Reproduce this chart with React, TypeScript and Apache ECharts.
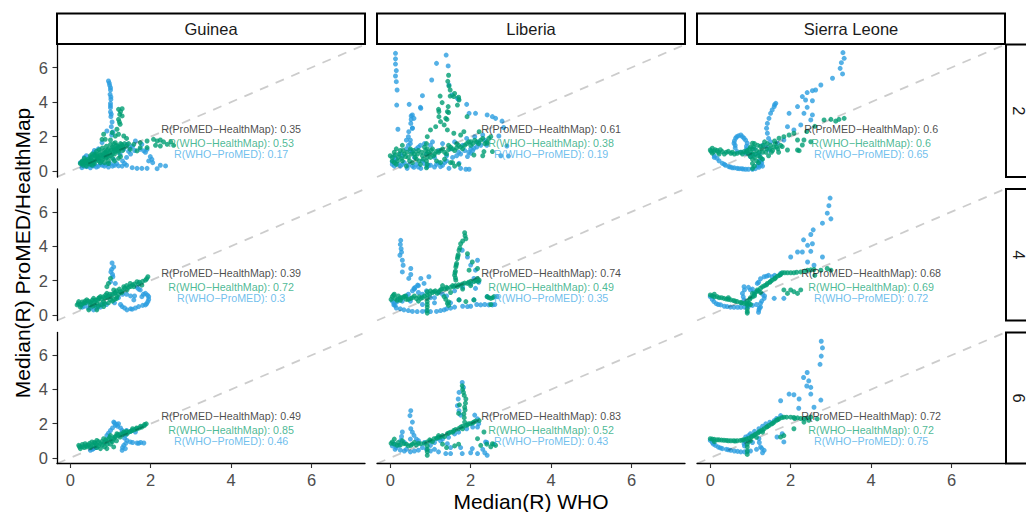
import React, { useEffect, useRef } from "react";
import * as echarts from "echarts";

const countries = ["Guinea", "Liberia", "Sierra Leone"];
const windows = ["2", "4", "6"];
const tickValues = [0, 2, 4, 6];
const axisMin = -0.33;
const axisMax = 7.33;
const xTitle = "Median(R) WHO";
const yTitle = "Median(R) ProMED/HealthMap";

// correlations by window (row) then country (column)
const rProMEDHealthMap = [[0.35, 0.61, 0.6], [0.39, 0.74, 0.68], [0.49, 0.83, 0.72]];
const rWHOHealthMap = [[0.53, 0.38, 0.6], [0.72, 0.49, 0.69], [0.85, 0.52, 0.72]];
const rWHOProMED = [[0.17, 0.19, 0.65], [0.3, 0.35, 0.72], [0.46, 0.43, 0.75]];
const labelY = [2.45, 1.65, 0.98];
const labelX = 4;

// ---------- window 2 ----------
const guineaW2ProMED = [[0.95,5.22],[0.97,5.1],[0.98,4.97],[1.0,4.83],[1.0,4.7],[0.99,4.45],[1.01,4.3],[1.01,4.16],[1.0,3.93],[1.0,3.8],[1.0,3.68],[1.0,3.43],[1.02,3.3],[1.01,3.16],[1.04,2.85],[1.02,2.58],[1.06,2.27],[1.03,2.1],[0.91,2.33],[0.79,1.66],[1.41,1.56],[1.49,1.37],[1.33,1.27],[1.62,1.75],[1.74,1.27],[1.78,1.56],[1.55,1.45],[0.58,1.08],[0.5,0.79],[0.83,0.89],[1.08,0.69],[1.24,0.98],[0.3,0.55],[0.45,0.65],[0.7,0.8],[1.1,1.2],[1.2,1.4],[0.25,0.5],[0.29,0.21],[0.35,0.3],[0.41,0.27],[0.5,0.2],[0.58,0.31],[0.65,0.25],[0.75,0.4],[0.85,0.3],[1.0,0.44],[1.1,0.35],[1.2,0.31],[1.29,0.3],[1.35,0.45],[1.4,0.35],[1.54,0.21],[1.66,0.17],[1.78,0.17],[1.91,0.17],[2.16,0.15],[2.24,0.35],[2.37,0.31],[1.95,0.6],[2.03,0.69],[1.99,0.85],[1.83,1.18],[1.91,1.27],[1.87,1.1],[2.05,0.5],[0.3,0.35],[0.4,0.4],[0.5,0.35],[0.6,0.4],[0.7,0.3],[0.8,0.35],[0.9,0.4],[0.95,0.25],[1.05,0.3],[1.15,0.45],[1.3,0.6],[1.4,0.8],[1.5,1.0],[1.6,1.2],[1.45,1.15],[0.4,0.9],[0.6,1.2],[0.7,1.3],[0.35,0.8]];
const guineaW2HealthMap = [[1.2,3.58],[1.29,3.62],[1.25,3.45],[1.23,3.29],[1.29,3.2],[1.2,3.0],[1.24,2.72],[1.16,2.43],[1.2,2.14],[1.12,2.04],[1.22,2.85],[0.87,1.85],[1.0,1.81],[1.33,2.04],[0.83,2.14],[0.79,1.85],[1.04,2.24],[1.4,1.9],[0.25,0.45],[0.3,0.6],[0.32,0.35],[0.35,0.75],[0.4,0.5],[0.45,0.7],[0.5,0.4],[0.5,0.9],[0.55,0.6],[0.6,0.75],[0.6,0.45],[0.65,1.0],[0.7,0.6],[0.7,0.85],[0.75,1.1],[0.8,0.7],[0.8,0.95],[0.85,1.2],[0.9,0.8],[0.9,1.05],[0.95,1.3],[1.0,0.9],[1.0,1.15],[1.05,1.4],[1.1,1.0],[1.1,1.25],[1.15,1.5],[1.2,1.1],[1.2,1.35],[1.25,1.6],[1.3,1.2],[1.3,1.45],[0.4,0.3],[0.55,0.35],[0.75,0.5],[0.95,0.6],[1.05,0.75],[0.38,0.62],[0.62,0.88],[0.88,1.1],[1.12,1.65],[0.28,0.52],[0.48,0.55],[0.68,0.72],[0.92,0.95],[1.18,1.2],[1.58,1.56],[1.74,1.66],[1.91,1.75],[2.07,1.85],[2.16,1.75],[2.24,1.81],[2.32,1.7],[2.12,1.5],[1.91,1.37],[1.74,1.37],[1.49,1.27],[1.66,1.18],[2.24,1.46],[2.41,1.56],[2.5,1.7],[2.57,1.5],[1.4,1.45],[1.45,1.6],[0.3,0.45],[0.35,0.55],[0.42,0.6],[0.45,0.45],[0.5,0.65],[0.52,0.8],[0.58,0.55],[0.6,0.95],[0.65,0.65],[0.68,0.9],[0.72,0.75],[0.75,0.95],[0.78,0.6],[0.82,0.85],[0.85,1.05],[0.88,0.75],[0.92,1.2],[0.95,0.85],[0.98,1.05],[1.02,1.25],[1.05,1.0],[1.08,1.35],[1.12,1.15],[1.15,1.3],[1.18,1.45],[1.22,1.25],[1.25,1.4],[1.28,1.55],[1.32,1.35],[1.35,1.6],[0.55,1.0],[0.65,1.15],[0.72,1.25],[0.8,1.35],[0.9,1.45],[1.0,1.55],[1.08,1.6],[0.85,0.5],[0.95,0.45],[1.1,0.6],[1.2,0.75],[1.25,0.85]];
const liberiaW2ProMED = [[0.13,6.82],[0.13,6.5],[0.13,6.2],[0.15,5.82],[0.13,5.51],[0.15,5.18],[0.17,4.7],[0.16,3.83],[0.19,2.43],[1.39,6.72],[1.15,6.24],[1.44,6.09],[1.03,5.28],[0.8,4.37],[0.47,3.87],[0.75,3.7],[0.52,3.2],[0.52,3.0],[0.55,2.5],[0.55,3.26],[0.59,3.06],[0.51,2.77],[0.55,2.49],[0.46,2.29],[0.76,3.64],[1.46,4.99],[1.54,4.41],[1.67,4.22],[1.7,4.16],[1.9,3.87],[1.96,3.35],[2.12,3.35],[2.41,3.26],[2.54,3.16],[2.62,3.06],[2.78,2.9],[2.82,2.53],[2.7,2.04],[2.9,1.46],[2.94,0.88],[2.75,0.9],[0.42,0.17],[0.59,0.23],[0.76,0.17],[0.92,0.27],[1.25,0.27],[1.46,0.17],[1.75,0.17],[1.88,0.12],[1.96,0.12],[1.71,0.46],[1.92,0.85],[2.0,1.04],[2.08,1.33],[2.17,1.62],[0.05,0.56],[0.09,0.85],[0.1,0.6],[0.2,0.4],[0.3,0.9],[0.35,0.5],[0.5,1.2],[0.6,0.8],[0.7,1.4],[0.8,0.6],[0.9,1.0],[1.0,1.5],[1.1,0.8],[1.2,1.2],[1.3,1.6],[1.4,0.9],[1.5,1.3],[1.6,1.7],[1.7,1.1],[1.8,1.5],[1.9,1.9],[2.0,1.3],[2.1,2.0],[2.2,1.7],[2.3,2.1],[2.4,1.5],[0.4,1.8],[0.45,2.0],[0.5,1.6],[0.95,0.35],[1.15,0.4],[1.35,0.5],[0.05,0.4],[0.1,0.3],[0.15,0.7],[0.25,0.3],[0.3,0.4],[0.45,0.35],[0.55,0.3],[0.65,0.4],[0.7,0.25],[0.85,0.45],[1.0,0.35],[1.1,0.25],[1.2,0.5],[1.3,0.35],[1.4,0.6],[1.55,0.8],[1.65,0.9],[1.75,1.0],[1.85,1.2],[1.95,1.1],[2.05,1.2],[2.15,1.4],[2.25,1.5],[2.35,1.8],[0.25,1.0],[0.55,1.1],[0.65,1.3],[0.75,1.5],[0.85,1.6],[1.05,1.7],[0.45,1.5],[0.5,1.8],[0.4,1.3]];
const liberiaW2HealthMap = [[1.45,5.55],[1.43,5.2],[1.46,4.93],[1.49,4.7],[1.49,4.35],[1.6,4.5],[1.7,4.28],[1.58,4.32],[1.71,4.12],[1.67,3.83],[1.44,3.74],[1.42,3.45],[1.24,4.35],[1.29,3.97],[1.2,3.58],[1.21,3.45],[1.21,3.16],[1.38,3.06],[1.25,2.87],[1.34,2.68],[1.13,2.58],[1.0,2.39],[0.92,2.0],[1.42,2.39],[1.58,2.2],[1.75,2.1],[1.83,2.29],[2.21,2.29],[2.0,1.71],[2.41,1.62],[2.33,1.14],[2.54,1.14],[2.08,0.94],[1.91,3.16],[1.45,3.4],[1.41,3.0],[0.0,0.9],[0.05,0.6],[0.1,1.1],[0.15,0.4],[0.2,0.8],[0.25,1.2],[0.3,0.6],[0.35,1.0],[0.4,0.3],[0.45,0.8],[0.5,1.3],[0.55,0.5],[0.6,1.0],[0.65,0.7],[0.7,1.2],[0.75,0.4],[0.8,0.9],[0.85,1.4],[0.9,0.6],[0.9,0.2],[0.9,1.0],[0.9,1.6],[0.95,1.1],[1.0,0.8],[1.05,1.3],[1.1,1.0],[1.2,1.1],[1.3,1.3],[1.4,1.0],[1.5,1.4],[1.6,1.2],[1.7,1.5],[1.8,1.3],[1.9,1.6],[2.0,1.5],[2.1,1.8],[2.2,1.6],[2.3,1.9],[2.4,1.7],[2.5,2.0],[1.5,0.5],[1.6,0.3],[2.3,0.9],[0.15,1.3],[0.3,1.5],[0.05,0.8],[0.1,0.5],[0.12,0.95],[0.18,0.6],[0.22,1.0],[0.28,0.75],[0.32,1.2],[0.38,0.85],[0.42,1.1],[0.48,0.6],[0.52,1.0],[0.58,1.2],[0.62,0.8],[0.68,1.0],[0.72,0.6],[0.78,1.1],[0.82,0.7],[0.88,1.2],[0.92,0.4],[0.92,0.8],[0.92,1.3],[0.98,1.0],[1.02,1.2],[1.08,0.9],[1.15,1.15],[1.25,1.2],[1.35,1.1],[1.45,1.25],[1.55,1.3],[1.65,1.35],[1.75,1.4],[1.85,1.5],[1.95,1.7],[2.05,1.6],[2.15,1.7],[2.25,1.8],[2.35,1.6],[2.45,1.9],[1.45,1.5],[1.65,1.6],[1.15,0.6],[1.25,0.5],[1.35,0.7],[1.55,0.5],[1.7,0.4]];
const sierraLeoneW2ProMED = [[3.3,6.86],[3.33,6.53],[3.26,6.28],[3.23,5.95],[3.29,5.63],[3.04,5.38],[2.75,4.99],[2.62,4.7],[2.54,4.66],[2.41,4.55],[2.29,4.32],[2.37,4.12],[2.54,4.08],[2.17,3.74],[2.41,3.7],[1.96,3.35],[2.33,3.35],[2.54,3.26],[2.5,2.97],[1.92,2.58],[2.25,2.68],[1.83,1.81],[2.08,2.39],[1.67,1.62],[1.46,1.23],[1.63,3.93],[1.59,3.74],[1.54,3.55],[1.5,3.35],[1.46,3.06],[1.42,2.77],[1.4,2.49],[1.6,3.85],[0.76,2.1],[0.84,1.91],[0.92,1.62],[0.88,1.04],[0.67,1.14],[0.59,1.62],[0.63,1.91],[0.7,2.05],[0.9,1.3],[0.17,0.75],[0.3,0.46],[0.46,0.27],[0.67,0.17],[0.88,0.12],[1.05,0.12],[1.21,0.23],[1.25,0.56],[1.2,0.4],[1.28,0.7],[1.23,0.9],[0.1,0.9],[0.38,0.35],[0.55,0.2],[0.78,0.15],[1.1,1.3],[1.3,1.5],[1.5,1.7],[1.0,1.0],[0.1,0.8],[0.22,0.6],[0.35,0.4],[0.5,0.25],[0.6,0.2],[0.72,0.15],[0.82,0.13],[0.95,0.12],[1.12,0.15],[1.18,0.3],[1.25,0.35],[1.28,0.5],[1.3,0.3],[1.22,0.6],[0.62,1.35],[0.6,1.75],[0.66,2.0],[0.8,2.0],[0.88,1.8],[0.9,1.45],[0.9,1.15],[0.78,1.1],[0.62,1.5],[1.0,0.85],[1.1,0.95],[1.2,1.05],[1.4,1.4],[1.45,1.9],[1.42,2.2]];
const sierraLeoneW2HealthMap = [[0.0,1.23],[0.09,1.14],[0.17,1.2],[0.3,1.14],[0.4,1.1],[0.51,1.04],[0.67,1.04],[0.84,1.14],[0.05,1.33],[0.05,1.05],[0.22,1.0],[0.35,1.0],[0.92,1.2],[1.0,1.4],[1.1,1.6],[1.15,1.2],[1.2,0.9],[1.25,1.45],[1.3,1.1],[1.35,1.7],[1.4,1.3],[1.45,0.9],[1.5,1.5],[1.55,1.2],[1.6,1.75],[1.65,1.4],[1.7,1.1],[1.0,0.85],[0.95,1.0],[1.05,1.62],[1.05,1.3],[1.05,1.0],[1.05,0.7],[1.05,0.45],[1.05,0.17],[1.71,1.91],[1.83,2.0],[1.96,2.1],[2.08,2.2],[1.79,1.43],[1.92,1.23],[2.17,1.23],[2.29,1.52],[2.5,1.71],[2.17,1.81],[2.33,1.81],[2.21,1.19],[2.83,2.97],[3.12,2.9],[3.2,3.0],[3.33,3.06],[3.0,3.0],[2.6,2.6],[2.4,2.3],[0.02,1.15],[0.12,1.25],[0.2,1.1],[0.25,1.25],[0.45,1.15],[0.55,1.1],[0.6,1.0],[0.75,1.1],[0.8,1.0],[0.9,1.1],[0.98,1.3],[1.02,1.1],[1.08,1.4],[1.12,1.0],[1.18,1.5],[1.22,1.1],[1.28,1.3],[1.32,1.5],[1.38,1.1],[1.42,1.6],[1.48,1.3],[1.52,1.1],[1.58,1.4],[1.62,1.6],[1.68,1.3],[1.75,1.5],[1.1,0.8],[1.15,0.6],[1.2,0.5],[1.25,0.8],[1.3,0.7],[1.1,0.3]];

// ---------- window 4 ----------
const guineaW4ProMED = [[1.04,3.02],[1.08,2.79],[1.01,2.5],[1.06,2.22],[1.0,1.93],[1.12,1.83],[1.03,2.65],[1.05,2.35],[0.25,0.58],[0.41,0.67],[0.58,0.29],[0.66,0.39],[1.29,0.48],[1.41,0.29],[1.54,0.33],[1.7,0.48],[1.87,0.58],[1.93,0.77],[1.95,1.06],[1.87,1.25],[1.78,1.06],[1.74,1.45],[1.66,1.6],[1.58,0.87],[0.5,0.39],[0.35,0.5],[0.8,0.6],[1.1,0.7],[1.2,1.0],[1.4,1.2],[1.6,1.1],[0.3,0.45],[0.45,0.4],[0.65,0.5],[0.75,0.45],[0.9,0.6],[1.35,0.4],[1.5,0.35],[1.62,0.4],[1.8,0.55],[1.9,0.65],[1.95,0.9],[1.92,1.15],[1.82,1.2],[1.7,1.5],[1.3,1.2],[1.5,1.1],[1.25,0.6]];
const guineaW4HealthMap = [[0.17,0.58],[0.21,0.77],[0.33,0.67],[0.41,0.87],[0.5,0.58],[0.58,0.96],[0.66,0.67],[0.75,1.06],[0.83,0.77],[0.91,1.25],[1.0,0.87],[1.08,1.45],[1.16,1.06],[1.24,1.35],[1.33,1.64],[1.41,1.45],[1.49,1.83],[1.58,1.64],[1.66,1.93],[1.78,1.73],[1.87,2.02],[1.93,2.22],[1.0,2.12],[0.95,1.83],[0.91,1.64],[0.46,0.29],[0.66,0.29],[0.83,0.48],[0.25,0.45],[0.37,0.8],[0.5,0.75],[0.62,0.85],[0.7,0.95],[0.87,1.0],[0.95,1.1],[1.05,1.2],[1.12,1.3],[1.2,1.2],[1.3,1.4],[1.45,1.6],[1.55,1.75],[1.7,1.8],[1.8,1.95],[0.55,0.5],[0.75,0.6],[0.95,0.7],[1.1,0.9],[0.2,0.65],[0.28,0.6],[0.3,0.75],[0.38,0.7],[0.45,0.8],[0.52,0.7],[0.55,0.85],[0.6,0.75],[0.68,0.85],[0.72,1.0],[0.78,0.9],[0.82,1.05],[0.88,1.15],[0.92,1.0],[0.98,1.2],[1.02,1.05],[1.1,1.25],[1.15,1.4],[1.22,1.5],[1.28,1.3],[1.35,1.55],[1.4,1.7],[1.5,1.65],[1.6,1.8],[1.72,1.9],[1.9,2.1],[0.6,0.55],[0.7,0.5],[0.85,0.65],[1.05,0.8],[1.15,0.95]];
const liberiaW4ProMED = [[0.26,4.34],[0.27,3.85],[0.24,3.47],[0.3,3.18],[0.32,2.89],[0.25,4.1],[0.51,2.7],[0.51,2.35],[0.46,2.12],[0.76,2.12],[0.96,2.22],[0.68,1.73],[0.84,1.83],[0.59,1.54],[0.17,0.77],[0.09,0.58],[0.3,2.5],[0.28,3.65],[1.79,3.76],[1.92,3.37],[2.17,3.18],[2.12,2.6],[2.08,2.12],[2.12,1.54],[2.08,0.87],[1.71,0.87],[2.54,0.58],[2.41,1.06],[2.66,1.06],[2.0,2.9],[0.09,0.67],[0.34,0.29],[0.67,0.19],[1.0,0.19],[1.34,0.29],[1.5,0.39],[1.92,0.48],[2.25,0.58],[0.2,0.9],[0.4,1.1],[0.5,0.8],[0.7,1.3],[0.8,0.6],[1.0,1.0],[1.1,0.7],[1.2,1.3],[1.4,1.1],[1.6,1.4],[1.8,1.6],[2.0,1.8],[2.2,1.9],[0.6,1.5],[1.5,0.7],[0.05,0.8],[0.12,0.55],[0.15,0.4],[0.25,0.35],[0.45,0.25],[0.55,0.2],[0.8,0.2],[0.9,0.25],[1.15,0.2],[1.25,0.25],[1.4,0.35],[1.6,0.45],[1.8,0.5],[2.0,0.5],[0.3,0.8],[0.45,1.2],[0.55,1.4],[0.62,1.6],[0.7,1.7],[0.8,1.2],[0.9,1.4],[1.1,1.0],[1.3,1.2],[2.15,0.6],[2.35,0.6],[2.6,0.6],[2.45,0.58]];
const liberiaW4HealthMap = [[1.85,4.78],[1.88,4.43],[1.75,4.14],[1.71,3.76],[1.67,3.28],[1.63,2.79],[1.6,2.31],[1.63,2.02],[1.67,1.64],[1.92,3.56],[2.04,3.08],[1.96,2.6],[2.17,2.7],[2.17,2.12],[1.86,4.6],[1.69,3.5],[1.65,3.0],[1.62,2.55],[0.05,1.06],[0.17,0.85],[0.34,1.06],[0.51,0.96],[0.76,0.96],[0.92,1.16],[1.09,1.35],[1.25,1.45],[1.42,1.54],[1.58,1.64],[1.75,1.73],[1.92,1.83],[2.08,1.93],[2.21,2.02],[1.17,1.25],[1.34,1.06],[1.42,0.67],[1.45,0.55],[0.92,1.35],[0.92,0.77],[0.92,0.1],[0.92,0.45],[2.08,0.87],[2.41,1.06],[2.5,0.96],[2.58,1.06],[2.5,0.6],[1.88,0.77],[1.71,0.87],[0.1,1.2],[0.25,1.0],[0.4,0.9],[0.6,1.1],[0.7,0.8],[1.0,1.4],[1.3,1.7],[1.5,1.3],[1.8,1.5],[2.0,1.7],[0.02,0.9],[0.08,1.15],[0.12,0.95],[0.2,1.1],[0.25,0.85],[0.3,1.0],[0.38,1.1],[0.45,0.9],[0.55,1.0],[0.65,0.95],[0.72,1.05],[0.8,1.0],[0.85,1.1],[0.92,0.95],[0.92,0.6],[0.92,0.25],[0.98,1.2],[1.05,1.3],[1.12,1.4],[1.2,1.35],[1.28,1.5],[1.35,1.5],[1.4,1.6],[1.5,1.6],[1.55,1.7],[1.62,1.7],[1.7,1.75],[1.8,1.8],[1.85,1.85],[1.95,1.9],[2.0,1.95],[2.12,2.0],[2.18,1.95],[1.38,0.9],[1.45,0.75],[2.45,1.0],[2.55,1.0],[1.62,2.15],[1.61,2.45],[1.64,2.9],[1.68,3.4],[1.73,3.9],[1.8,4.3]];
const sierraLeoneW4ProMED = [[2.98,6.8],[2.95,6.36],[2.91,5.92],[3.0,5.59],[2.79,5.34],[2.56,4.95],[2.5,4.68],[2.32,4.37],[2.54,4.14],[2.42,4.05],[2.17,3.66],[2.29,3.66],[2.5,3.7],[2.0,3.37],[2.58,2.89],[2.42,3.08],[2.79,3.37],[1.75,2.41],[1.54,2.22],[1.34,2.22],[1.17,1.83],[1.0,1.45],[0.84,1.64],[0.8,1.25],[0.84,0.87],[1.25,0.67],[1.21,0.29],[1.34,0.96],[1.1,1.3],[1.45,2.3],[0.0,1.06],[0.09,0.77],[0.26,0.58],[0.42,0.48],[0.59,0.44],[0.76,0.44],[0.92,0.48],[1.59,0.96],[1.83,0.96],[1.25,0.45],[1.3,1.2],[0.05,0.9],[0.15,0.65],[0.2,0.6],[0.35,0.5],[0.5,0.45],[0.68,0.44],[0.85,0.45],[0.95,0.5],[1.05,0.55],[1.15,0.6],[0.82,1.05],[0.85,1.45],[0.95,1.6],[1.05,1.5],[1.2,1.9],[1.25,2.1],[1.4,2.25],[1.6,2.3],[1.28,0.8],[1.22,0.4],[1.35,1.1],[1.2,0.15]];
const sierraLeoneW4HealthMap = [[0.0,1.16],[0.17,1.06],[0.34,0.96],[0.51,0.87],[0.67,0.77],[0.84,0.67],[0.96,0.67],[1.05,1.25],[1.17,1.45],[1.3,1.64],[1.42,1.83],[1.54,2.02],[1.67,2.25],[1.79,2.45],[1.92,2.45],[2.08,2.45],[2.25,2.5],[2.42,2.6],[2.58,2.64],[2.75,2.6],[2.91,2.7],[3.0,2.6],[0.92,0.58],[0.92,0.1],[0.92,0.35],[1.83,1.45],[2.0,1.45],[2.17,1.25],[1.92,1.25],[2.25,1.45],[2.08,1.35],[1.0,1.0],[1.1,1.1],[1.25,1.3],[0.1,1.2],[0.45,1.0],[2.6,2.3],[0.05,1.1],[0.1,1.05],[0.22,1.0],[0.28,1.0],[0.4,0.92],[0.45,0.9],[0.58,0.83],[0.62,0.8],[0.75,0.72],[0.78,0.7],[0.9,0.67],[0.92,0.8],[0.98,0.9],[1.05,1.05],[1.1,1.2],[1.15,1.35],[1.2,1.4],[1.25,1.55],[1.35,1.7],[1.4,1.75],[1.48,1.9],[1.5,1.95],[1.6,2.1],[1.62,2.15],[1.72,2.3],[1.75,2.35],[1.85,2.45],[2.0,2.45],[2.15,2.48],[2.35,2.55],[2.5,2.62],[1.0,0.6],[0.92,0.2]];

// ---------- window 6 ----------
const guineaW6ProMED = [[1.08,2.09],[1.12,1.9],[1.2,2.0],[1.0,1.6],[0.91,1.31],[1.29,1.6],[1.37,1.31],[1.41,1.02],[1.33,0.73],[1.29,0.44],[1.49,0.93],[1.66,0.87],[1.83,0.87],[0.58,0.54],[0.5,0.44],[1.37,0.54],[1.62,1.51],[1.05,1.75],[1.15,1.95],[1.75,0.9],[1.1,2.05],[1.18,1.85],[1.25,1.75],[0.95,1.45],[1.3,1.45],[1.35,1.15],[1.38,0.85],[1.3,0.6],[1.55,0.9],[1.7,0.85],[0.55,0.5],[0.65,0.6],[1.4,1.6],[1.5,1.55]];
const guineaW6HealthMap = [[0.21,0.73],[0.25,0.54],[0.37,0.83],[0.41,0.64],[0.54,0.93],[0.58,0.73],[0.66,1.02],[0.75,0.83],[0.83,1.12],[0.91,0.93],[1.0,1.31],[1.08,1.12],[1.16,1.41],[1.24,1.22],[1.33,1.51],[1.41,1.41],[1.54,1.6],[1.66,1.7],[1.78,1.8],[1.89,1.99],[0.91,0.54],[1.08,0.64],[0.75,0.54],[0.3,0.65],[0.45,0.75],[0.62,0.85],[0.7,0.7],[0.85,0.9],[0.95,1.1],[1.05,0.95],[1.12,1.25],[1.2,1.3],[1.3,1.35],[1.45,1.5],[1.6,1.65],[1.72,1.75],[1.84,1.88],[1.0,0.8],[0.5,0.6],[0.23,0.65],[0.3,0.78],[0.35,0.6],[0.4,0.72],[0.48,0.85],[0.52,0.68],[0.6,0.9],[0.65,0.75],[0.7,0.95],[0.78,0.95],[0.8,0.75],[0.88,1.05],[0.92,0.8],[0.98,1.2],[1.02,1.0],[1.1,1.2],[1.18,1.35],[1.25,1.4],[1.35,1.45],[1.4,1.55],[1.5,1.55],[1.55,1.7],[1.65,1.75],[1.75,1.85],[1.85,1.95],[0.65,0.6],[0.85,0.65],[1.15,1.0]];
const liberiaW6ProMED = [[1.79,4.41],[1.82,4.12],[1.71,3.83],[1.69,3.44],[1.67,3.05],[1.71,2.76],[1.75,2.5],[0.51,2.76],[0.49,2.47],[0.55,2.09],[0.51,1.7],[0.59,1.31],[0.3,1.51],[0.26,1.02],[0.22,0.73],[1.17,1.12],[1.42,0.83],[1.0,0.73],[1.38,0.25],[1.5,0.25],[1.79,0.25],[2.04,0.54],[2.17,0.25],[2.41,0.15],[2.37,0.93],[2.17,1.8],[2.17,2.28],[2.1,2.5],[0.09,0.83],[0.15,0.6],[0.4,0.5],[0.6,0.4],[0.8,0.6],[1.1,0.5],[0.7,1.0],[1.3,1.1],[1.6,1.4],[1.9,1.7],[2.2,2.0],[0.05,0.7],[0.12,0.5],[0.25,0.45],[0.35,0.4],[0.5,0.35],[0.7,0.45],[0.9,0.5],[1.0,0.4],[1.2,0.35],[1.5,0.6],[1.75,0.6],[2.0,0.3],[0.28,1.25],[0.35,0.9],[0.5,1.1],[0.55,1.5],[0.65,1.1],[0.85,0.9],[1.1,0.9],[1.25,1.0],[1.45,1.2],[1.7,1.5],[2.05,1.8],[2.3,0.5],[2.35,0.3],[2.4,0.9]];
const liberiaW6HealthMap = [[1.79,4.21],[1.82,3.83],[1.88,3.44],[1.85,2.96],[1.83,2.57],[1.85,2.09],[1.7,2.6],[1.72,3.1],[1.8,4.0],[0.05,0.93],[0.17,0.73],[0.34,0.83],[0.51,0.73],[0.76,0.83],[0.92,0.93],[1.09,1.12],[1.25,1.22],[1.42,1.41],[1.58,1.6],[1.75,1.8],[1.92,1.93],[2.08,2.09],[2.21,2.18],[0.92,0.15],[0.92,0.5],[0.1,1.1],[0.3,1.0],[0.6,0.9],[1.0,1.0],[1.2,1.3],[1.5,1.5],[1.8,1.7],[2.0,2.0],[2.17,1.12],[2.25,0.73],[2.33,1.51],[2.54,0.83],[2.5,0.65],[2.62,0.73],[1.3,0.8],[1.6,0.7],[0.02,0.85],[0.1,0.8],[0.2,0.9],[0.25,0.75],[0.4,0.8],[0.45,0.7],[0.55,0.8],[0.65,0.75],[0.7,0.85],[0.85,0.85],[0.92,0.35],[0.92,0.7],[0.98,1.05],[1.05,0.95],[1.15,1.15],[1.2,1.2],[1.3,1.3],[1.35,1.25],[1.45,1.45],[1.55,1.5],[1.62,1.65],[1.7,1.7],[1.8,1.85],[1.88,1.9],[1.95,2.0],[2.05,2.05],[2.12,2.15],[1.84,2.35],[1.86,2.8],[1.87,3.2],[1.84,3.65],[1.4,0.6],[1.7,0.8],[2.4,0.8],[2.58,0.8]];
const sierraLeoneW6ProMED = [[2.76,6.82],[2.79,6.43],[2.76,5.95],[2.73,5.47],[2.41,4.99],[2.32,4.7],[2.45,4.5],[2.5,4.12],[2.4,4.2],[1.96,3.73],[2.08,3.69],[2.5,3.73],[1.75,3.34],[2.21,3.44],[2.75,3.38],[2.58,2.96],[2.2,2.9],[1.75,2.47],[1.59,2.18],[1.38,1.99],[1.21,1.7],[1.0,1.41],[0.88,1.22],[0.84,0.83],[1.21,1.12],[1.25,0.64],[1.34,0.44],[1.05,0.9],[0.0,1.02],[0.13,0.73],[0.3,0.54],[0.51,0.44],[0.76,0.35],[0.92,0.35],[1.83,0.93],[1.66,1.22],[1.79,1.41],[0.05,0.9],[0.08,0.8],[0.2,0.63],[0.25,0.58],[0.4,0.5],[0.45,0.47],[0.6,0.4],[0.68,0.38],[0.85,0.35],[1.0,0.4],[1.15,0.5],[0.86,1.0],[0.85,0.7],[0.95,1.3],[1.1,1.55],[1.3,1.85],[1.48,2.08],[1.65,2.3],[1.22,0.9],[1.28,0.55],[1.3,0.3]];
const sierraLeoneW6HealthMap = [[0.0,1.12],[0.17,1.06],[0.34,1.03],[0.51,1.0],[0.67,1.0],[0.84,1.06],[0.96,1.15],[1.09,1.31],[1.21,1.51],[1.34,1.7],[1.46,1.89],[1.59,2.09],[1.71,2.28],[1.83,2.38],[2.0,2.38],[2.17,2.34],[2.33,2.28],[2.5,2.38],[2.66,2.28],[0.92,0.64],[0.92,0.2],[1.75,1.22],[1.83,1.3],[2.08,1.7],[2.33,2.09],[1.0,1.0],[1.15,1.2],[1.3,1.5],[0.1,0.95],[2.1,2.3],[2.45,2.2],[0.05,1.1],[0.1,1.08],[0.22,1.05],[0.28,1.04],[0.4,1.02],[0.45,1.0],[0.58,1.0],[0.62,0.98],[0.75,1.02],[0.8,1.04],[0.9,1.1],[1.02,1.22],[1.05,1.28],[1.12,1.38],[1.18,1.45],[1.25,1.58],[1.3,1.62],[1.4,1.8],[1.42,1.83],[1.52,1.98],[1.55,2.02],[1.65,2.2],[1.68,2.24],[1.78,2.35],[1.9,2.38],[2.08,2.36],[2.25,2.3],[2.4,2.32],[0.92,0.4],[0.92,0.8],[0.95,0.95]];

const proMEDData = [
  [guineaW2ProMED, liberiaW2ProMED, sierraLeoneW2ProMED],
  [guineaW4ProMED, liberiaW4ProMED, sierraLeoneW4ProMED],
  [guineaW6ProMED, liberiaW6ProMED, sierraLeoneW6ProMED],
];
const healthMapData = [
  [guineaW2HealthMap, liberiaW2HealthMap, sierraLeoneW2HealthMap],
  [guineaW4HealthMap, liberiaW4HealthMap, sierraLeoneW4HealthMap],
  [guineaW6HealthMap, liberiaW6HealthMap, sierraLeoneW6HealthMap],
];

const BLUE = "#2b9de0";
const GREEN = "#009e73";
const BLUE_TEXT = "#4aaee8";
const GREEN_TEXT = "#1aa779";
const FONT = "'Liberation Sans', Arial, Helvetica, sans-serif";

const GRID_LEFT = [57, 377, 697];
const GRID_W = 308;
const GRID_TOP = [44.5, 189, 332.5];
const GRID_H = [132.5, 131.5, 131];

export default function App() {
  const ref = useRef<HTMLDivElement>(null);
  useEffect(() => {
    if (!ref.current) return;
    const chart = echarts.init(ref.current, null, { renderer: "svg" });
    const grids: any[] = [];
    const xAxes: any[] = [];
    const yAxes: any[] = [];
    const series: any[] = [];
    for (let r = 0; r < 3; r++) {
      for (let c = 0; c < 3; c++) {
        const i = r * 3 + c;
        grids.push({ left: GRID_LEFT[c], top: GRID_TOP[r], width: GRID_W, height: GRID_H[r] });
        const showX = r === 2;
        const showY = c === 0;
        xAxes.push({
          gridIndex: i, type: "value", min: axisMin, max: axisMax,
          axisLine: { show: showX, onZero: false, lineStyle: { color: "#000", width: 1.3 } },
          axisTick: { show: showX, customValues: tickValues, length: 4.5, lineStyle: { color: "#333", width: 1.1 } },
          axisLabel: { show: showX, customValues: tickValues, color: "#4d4d4d", fontSize: 16.5, fontFamily: FONT, margin: 8 },
          splitLine: { show: false },
        });
        yAxes.push({
          gridIndex: i, type: "value", min: axisMin, max: axisMax,
          axisLine: { show: showY, onZero: false, lineStyle: { color: "#000", width: 1.3 } },
          axisTick: { show: showY, customValues: tickValues, length: 4.5, lineStyle: { color: "#333", width: 1.1 } },
          axisLabel: { show: showY, customValues: tickValues, color: "#4d4d4d", fontSize: 16.5, fontFamily: FONT, margin: 9 },
          splitLine: { show: false },
        });
        series.push({
          type: "scatter", xAxisIndex: i, yAxisIndex: i, data: proMEDData[r][c],
          symbolSize: 5, itemStyle: { color: BLUE }, z: 2, silent: true,
        });
        series.push({
          type: "scatter", xAxisIndex: i, yAxisIndex: i, data: healthMapData[r][c],
          symbolSize: 5, itemStyle: { color: GREEN }, z: 3, silent: true,
        });
        series.push({
          type: "line", xAxisIndex: i, yAxisIndex: i, data: [[axisMin, axisMin], [axisMax, axisMax]],
          symbol: "none", lineStyle: { color: "rgba(0,0,0,0.2)", width: 1.8, type: [9, 8] }, z: 4, silent: true,
        });
        const texts = [
          { t: `R(ProMED\u2212HealthMap): ${rProMEDHealthMap[r][c]}`, col: "#1a1a1a" },
          { t: `R(WHO\u2212HealthMap): ${rWHOHealthMap[r][c]}`, col: GREEN_TEXT },
          { t: `R(WHO\u2212ProMED): ${rWHOProMED[r][c]}`, col: BLUE_TEXT },
        ];
        series.push({
          type: "scatter", xAxisIndex: i, yAxisIndex: i, symbolSize: 1, z: 5, silent: true,
          itemStyle: { color: "rgba(0,0,0,0)" },
          data: texts.map((d, k) => ({
            name: d.t, value: [labelX, labelY[k]],
            label: { show: true, position: "inside", formatter: "{b}", color: d.col, fontSize: 10.7, fontFamily: FONT },
          })),
        });
      }
    }
    const graphic: any[] = [];
    for (let c = 0; c < 3; c++) {
      graphic.push({
        type: "rect", shape: { x: GRID_LEFT[c], y: 13.5, width: GRID_W, height: 30.5 },
        style: { fill: "#fff", stroke: "#000", lineWidth: 2 }, z: 10,
      });
      graphic.push({
        type: "text", x: GRID_LEFT[c] + GRID_W / 2, y: 29, z: 11,
        style: { text: countries[c], fill: "#1a1a1a", font: `16.5px ${FONT}`, textAlign: "center", textVerticalAlign: "middle" },
      });
    }
    for (let r = 0; r < 3; r++) {
      graphic.push({
        type: "rect", shape: { x: 1006, y: GRID_TOP[r], width: 40, height: GRID_H[r] },
        style: { fill: "#fff", stroke: "#000", lineWidth: 2 }, z: 10,
      });
      graphic.push({
        type: "text", x: 1018.5, y: GRID_TOP[r] + GRID_H[r] / 2, rotation: -Math.PI / 2, z: 11,
        style: { text: windows[r], fill: "#1a1a1a", font: `16.5px ${FONT}`, lineHeight: 13, textAlign: "center", textVerticalAlign: "middle" },
      });
    }
    graphic.push({
      type: "text", x: 531, y: 501, z: 11,
      style: { text: xTitle, fill: "#000", font: `21px ${FONT}`, textAlign: "center", textVerticalAlign: "middle" },
    });
    graphic.push({
      type: "text", x: 22, y: 253, rotation: Math.PI / 2, z: 11,
      style: { text: yTitle, fill: "#000", font: `21px ${FONT}`, textAlign: "center", textVerticalAlign: "middle" },
    });
    chart.setOption({
      animation: false,
      backgroundColor: "#fff",
      grid: grids, xAxis: xAxes, yAxis: yAxes, series, graphic,
    });
    return () => chart.dispose();
  }, []);
  return <div ref={ref} style={{ position: "absolute", left: 0, top: 0, width: 1026, height: 512 }} />;
}
